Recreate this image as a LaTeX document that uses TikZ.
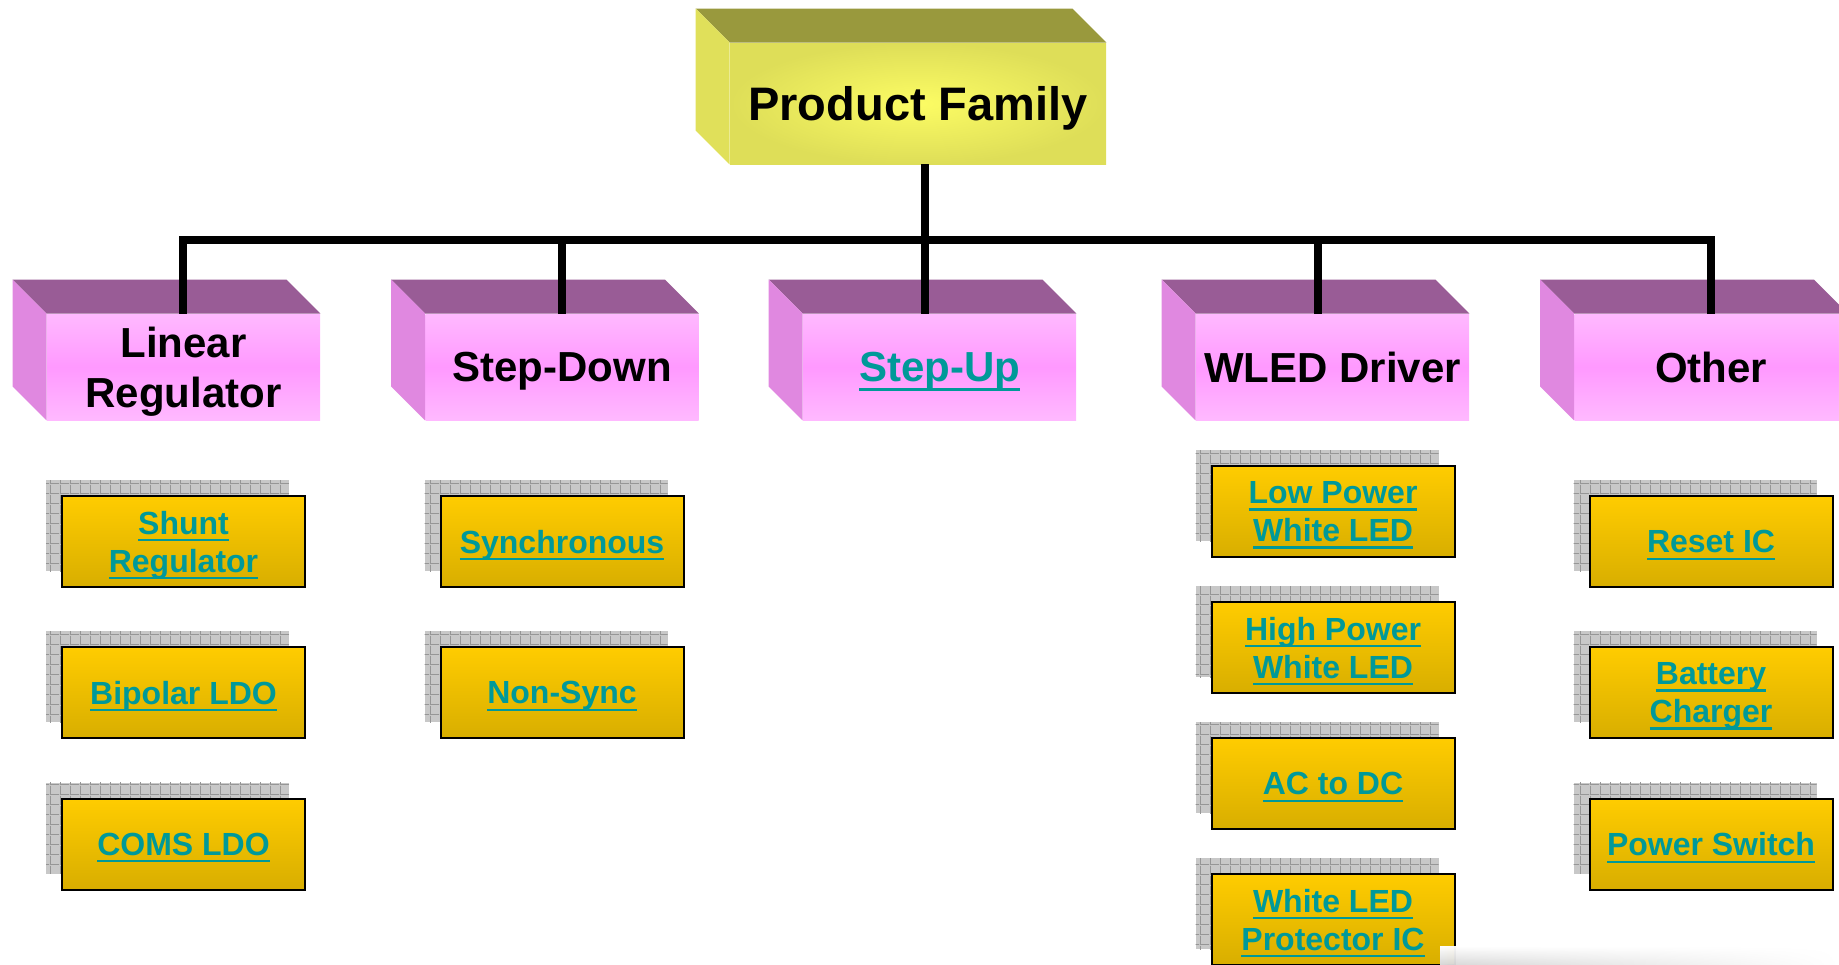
\documentclass[tikz,border=0pt]{standalone}
\usepackage{fontspec}
\setmainfont{Liberation Sans}
\usetikzlibrary{shadows,patterns,patterns.meta,fadings}

\definecolor{olivetop}{RGB}{153,153,61}
\definecolor{oliveside}{RGB}{224,224,90}
\definecolor{yellowin}{RGB}{252,252,100}
\definecolor{yellowout}{RGB}{222,222,88}
\definecolor{mauvetop}{RGB}{153,92,150}
\definecolor{pinkside}{RGB}{224,136,224}
\definecolor{pinklight}{RGB}{255,185,255}
\definecolor{pinkmid}{RGB}{255,153,255}
\definecolor{goldtop}{RGB}{255,204,0}
\definecolor{goldbot}{RGB}{216,174,0}
\definecolor{linkteal}{RGB}{0,153,153}
\definecolor{shadowgray}{RGB}{200,200,200}
\definecolor{gridgray}{RGB}{150,150,150}

\tikzdeclarepattern{name=shadowgrid, type=uncolored,
  bounding box={(0pt,0pt) and (5pt,5pt)}, tile size={(5pt,5pt)},
  code={\draw[line width=0.5pt] (0pt,0.25pt) -- (5pt,0.25pt) (0.25pt,0pt) -- (0.25pt,5pt);}}

% underlined link text
\newcommand\lnk[1]{\setbox0\hbox{#1}\rlap{\rule[-0.22em]{\wd0}{0.065em}}\box0}

\begin{document}
\begin{tikzpicture}[x=0.5pt,y=-0.5pt,
    rootbox/.style={minimum width=188pt,minimum height=60.5pt,inner sep=0pt,text depth=0pt,
      inner color=yellowin,outer color=yellowout,
      font=\fontsize{23.5}{28}\selectfont\bfseries},
    catbox/.style={minimum width=136.5pt,minimum height=53pt,inner sep=0pt,align=center,text depth=0pt,
      top color=pinklight,bottom color=pinklight,middle color=pinkmid,
      font=\fontsize{21}{25}\selectfont\bfseries},
    subbox/.style={minimum width=121.5pt,minimum height=45.5pt,inner sep=0pt,align=center,text depth=0pt,
      draw=black,line width=1pt,top color=goldtop,bottom color=goldbot,text=linkteal,
      font=\fontsize{16}{19}\selectfont\bfseries,
      general shadow={fill=shadowgray,shadow xshift=-8pt,shadow yshift=8pt},
      general shadow={pattern=shadowgrid,pattern color=gridgray,shadow xshift=-8pt,shadow yshift=8pt}},
    tree/.style={line width=4pt,line join=miter}]
    \useasboundingbox (0,0) rectangle (1839,964);

    % top of the tree
    \node[rootbox] (root) at (918,103.5) {Product Family};
    \fill[olivetop] (root.north west) -- ++(-34,-34) -- ([shift={(-34,-34)}]root.north east) -- (root.north east) -- cycle;
    \fill[oliveside] (root.north west) -- ++(-34,-34) -- ([shift={(-34,-34)}]root.south west) -- (root.south west) -- cycle;

    % families
    \node[catbox] (linreg)   at (183.5,367) {Linear\\Regulator};
    \node[catbox] (stepdown) at (562,367)   {Step-Down};
    \node[catbox,text=linkteal] (stepup) at (939.5,367) {\lnk{Step-Up}};
    \node[catbox] (wled)     at (1332.5,367) {WLED Driver};
    \node[catbox] (other)    at (1711,367)  {Other};
    \fill[mauvetop] (linreg.north west) -- ++(-34,-34) -- ([shift={(-34,-34)}]linreg.north east) -- (linreg.north east) -- cycle;
    \fill[pinkside] (linreg.north west) -- ++(-34,-34) -- ([shift={(-34,-34)}]linreg.south west) -- (linreg.south west) -- cycle;
    \fill[mauvetop] (stepdown.north west) -- ++(-34,-34) -- ([shift={(-34,-34)}]stepdown.north east) -- (stepdown.north east) -- cycle;
    \fill[pinkside] (stepdown.north west) -- ++(-34,-34) -- ([shift={(-34,-34)}]stepdown.south west) -- (stepdown.south west) -- cycle;
    \fill[mauvetop] (stepup.north west) -- ++(-34,-34) -- ([shift={(-34,-34)}]stepup.north east) -- (stepup.north east) -- cycle;
    \fill[pinkside] (stepup.north west) -- ++(-34,-34) -- ([shift={(-34,-34)}]stepup.south west) -- (stepup.south west) -- cycle;
    \fill[mauvetop] (wled.north west) -- ++(-34,-34) -- ([shift={(-34,-34)}]wled.north east) -- (wled.north east) -- cycle;
    \fill[pinkside] (wled.north west) -- ++(-34,-34) -- ([shift={(-34,-34)}]wled.south west) -- (wled.south west) -- cycle;
    \fill[mauvetop] (other.north west) -- ++(-34,-34) -- ([shift={(-34,-34)}]other.north east) -- (other.north east) -- cycle;
    \fill[pinkside] (other.north west) -- ++(-34,-34) -- ([shift={(-34,-34)}]other.south west) -- (other.south west) -- cycle;

    % connectors
    \coordinate (jlin) at (183,240);
    \coordinate (jdown) at (562,240);
    \coordinate (jup) at (925,240);
    \coordinate (jwled) at (1318,240);
    \coordinate (jother) at (1711,240);
    \draw[tree] (jlin |- linreg.north) -- (jlin) -- (jother) -- (jother |- other.north);
    \draw[tree] (jup |- root.south) -- (jup |- stepup.north);
    \draw[tree] (jdown) -- (jdown |- stepdown.north);
    \draw[tree] (jwled) -- (jwled |- wled.north);

    % products
    \node[subbox] (shunt)   at (183.5,541.5) {\lnk{Shunt}\\\lnk{Regulator}};
    \node[subbox] (bipolar) at (183.5,692.5) {\lnk{Bipolar LDO}};
    \node[subbox] (coms)    at (183.5,844)   {\lnk{COMS LDO}};
    \node[subbox] (synch)   at (562,541.5)   {\lnk{Synchronous}};
    \node[subbox] (nonsync) at (562,692.5)   {\lnk{Non-Sync}};
    \node[subbox] (lowpow)  at (1333,511.5)  {\lnk{Low Power}\\\lnk{White LED}};
    \node[subbox] (highpow) at (1333,647.5)  {\lnk{High Power}\\\lnk{White LED}};
    \node[subbox] (acdc)    at (1333,783.5)  {\lnk{AC to DC}};
    \node[subbox] (protect) at (1333,919.5)  {\lnk{White LED}\\\lnk{Protector IC}};
    \node[subbox] (reset)   at (1711,541.5)  {\lnk{Reset IC}};
    \node[subbox] (battery) at (1711,692.5)  {\lnk{Battery}\\\lnk{Charger}};
    \node[subbox] (pwrsw)   at (1711,844)    {\lnk{Power Switch}};

    % faint edge at the bottom
    \shade[top color=white,bottom color=black!15,path fading=east] (1440,946) rectangle (1839,964);
\end{tikzpicture}
\end{document}
